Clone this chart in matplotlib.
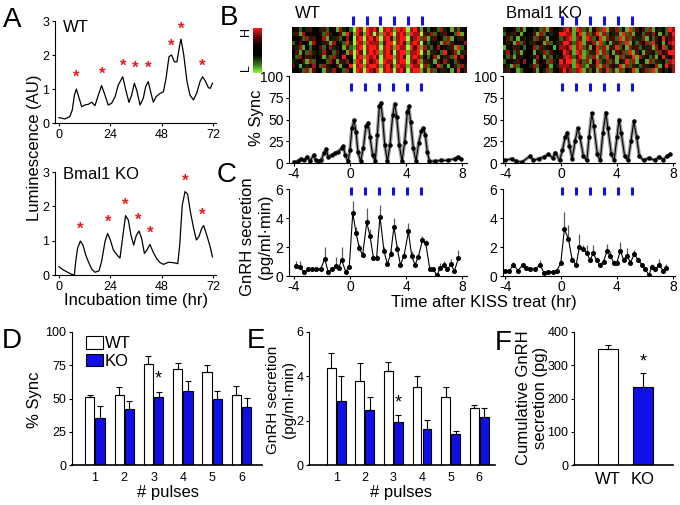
import numpy as np
import matplotlib
matplotlib.use("Agg")
import matplotlib.pyplot as plt
from matplotlib.colors import LinearSegmentedColormap
from matplotlib.patches import Patch

plt.rcParams['font.family'] = ['Liberation Sans', 'DejaVu Sans']
plt.rcParams['axes.unicode_minus'] = False

BLUE = '#1010e6'
W, H = 680, 505

# ---- panel A: luminescence traces
WT_LUM_T = [0, 2.8, 5.1, 6.2, 7.2, 8.1, 9, 10.6, 12.1, 13.7, 15.3, 16.8, 18.4, 19.9, 21.5, 23, 24.6, 26.2,
            27.7, 29.8, 31.2, 32.7, 33.95, 35.2, 36.3, 37.9, 39.4, 40.5, 41.7, 43, 44.1, 45.3, 47.2, 48.8,
            50, 51.4, 52.6, 53.9, 55.1, 56.4, 57, 58.3, 59.8, 61.2, 62.8, 64.3, 65.9, 67.1, 68.5, 69.8, 70.7, 71.7]
WT_LUM = [0.16, 0.12, 0.19, 0.38, 0.82, 1.0, 0.82, 0.48, 0.53, 0.55, 0.61, 0.51, 0.82, 1.1, 0.82, 0.53, 0.58,
          0.77, 1.12, 1.36, 0.97, 0.61, 0.82, 1.17, 0.97, 0.53, 0.73, 1.07, 1.22, 0.87, 0.61, 0.77, 0.87, 0.92,
          1.31, 1.95, 2.0, 1.8, 1.8, 2.29, 2.47, 2.0, 1.22, 0.82, 0.68, 0.87, 1.22, 1.36, 1.22, 1.04, 1.02, 1.17]
WT_STAR_T = [8, 20, 30, 35.5, 41.5, 52.5, 57, 67]
WT_STAR_Y = [1.12, 1.2, 1.45, 1.38, 1.38, 2.05, 2.55, 1.45]

KO_LUM_T = [0, 2, 4, 5.9, 7.2, 7.8, 8.7, 10, 11.2, 12.5, 13.7, 15.3, 16.8, 18.7, 19.9, 21.5, 22.7, 24, 25.4,
            26.9, 28.5, 29.8, 31.1, 32.4, 33.6, 34.9, 36.1, 37.4, 38.6, 39.9, 41.1, 42.5, 43.9, 45.5, 47, 48.8,
            51.1, 53.4, 55.5, 56.4, 57.6, 58.9, 60.1, 61.4, 62.9, 64.2, 65.4, 66.7, 67.6, 69, 70.6, 71.7]
KO_LUM = [0.24, 0.15, 0.08, 0.02, 0, 0.39, 0.78, 0.99, 0.87, 0.58, 0.39, 0.17, 0.08, 0.12, 0.39, 0.97, 1.21,
          1.02, 0.73, 0.6, 0.49, 1.12, 1.73, 1.6, 1.17, 0.87, 1.15, 1.28, 1.07, 0.63, 0.73, 0.89, 0.68, 0.49,
          0.37, 0.31, 0.37, 0.36, 0.33, 0.87, 2.04, 2.43, 2.35, 1.84, 1.36, 1.02, 1.12, 1.36, 1.44, 1.17, 0.83, 0.53]
KO_STAR_T = [10, 23, 31, 37, 42.5, 59, 67]
KO_STAR_Y = [1.1, 1.32, 1.8, 1.38, 1.0, 2.5, 1.52]

# ---- panel B: heatmaps (0-2 low/green, ~5 black, 7-9 high/red)
WT_HEAT = [
    "4625374" "5" "3724618352" "09809897089819890897162" "46283517264",
    "3718465" "5" "6283547196" "19719808198908981988073" "82637452916",
    "5462837" "4" "4816372584" "08908979089718990789281" "37462815374",
    "2674518" "5" "5371846293" "09819888179908971898062" "64318275648",
    "6381425" "5" "7248365172" "18908998089819880979183" "25846371925",
    "4716283" "4" "3865274618" "09708989189708991889071" "73529468137",
    "5284736" "5" "6172835946" "08919897089918970898262" "48163729584",
    "3647182" "5" "4528617384" "19809789098808990879173" "61748352746",
    "7415368" "4" "2836471659" "08918998189719881988082" "35926147283",
    "4562817" "5" "5173846285" "09809879089808970899171" "82473615947",
]
KO_HEAT = [
    "3546271" "4" "5362817453" "89719827168291738261927" "47281635298",
    "2637415" "5" "4718253649" "98817918279182637192816" "62738416279",
    "4725163" "4" "6283715462" "78918719826918372918273" "38162749378",
    "5361827" "5" "3746182537" "99728917381926173829162" "74829361589",
    "1647352" "4" "5827364158" "87918927169281739261837" "26371849268",
    "3852716" "5" "4163827546" "98719812739182617382917" "51736284799",
    "4271635" "4" "6385172436" "89827918281729361827391" "83627159348",
    "2563748" "5" "5174628359" "79918728169238271639281" "46182735289",
    "6318254" "4" "3826471538" "88719821739182763918273" "27364815978",
    "3745126" "5" "4715382647" "97828917261839271826391" "63829174358",
]
KISS_PULSES = [0.07, 1.07, 2.07, 3.07, 4.1, 5.1]

WT_SYNC_T = [-4.0, -3.7, -3.5, -3.3, -3.05, -2.85, -2.6, -2.45, -2.2, -2.05, -1.85, -1.7, -1.55, -1.3, -1.1,
             -0.85, -0.6, -0.48, -0.33, -0.14, 0.0, 0.14, 0.29, 0.43, 0.57, 0.76, 0.95, 1.14, 1.29, 1.43,
             1.62, 1.8, 1.95, 2.1, 2.2, 2.33, 2.48, 2.67, 2.86, 3.05, 3.19, 3.33, 3.52, 3.71, 3.9, 4.1, 4.19,
             4.33, 4.52, 4.71, 4.9, 5.1, 5.24, 5.38, 5.52, 5.67, 6.05, 6.5, 7.0, 7.5, 7.7, 7.9]
WT_SYNC = [1, 2, 5, 3, 7, 2, 9, 3, 2, 3, 12, 16, 7, 9, 11, 13, 17, 19, 9, 2, 15, 40, 49, 36, 13, 2, 17, 42, 46,
           30, 9, 2, 32, 65, 69, 51, 21, 2, 21, 55, 68, 53, 21, 2, 24, 59, 65, 47, 17, 2, 23, 37, 40, 32, 13, 2,
           2, 3, 3, 5, 7, 5]
KO_SYNC_T = [-4.0, -3.5, -3.2, -2.8, -2.2, -2.0, -1.6, -1.2, -0.9, -0.6, -0.4, -0.1, 0.1, 0.3, 0.45, 0.6, 0.8,
             1.0, 1.2, 1.35, 1.6, 1.85, 2.0, 2.2, 2.35, 2.6, 2.8, 3.0, 3.2, 3.35, 3.6, 3.8, 4.0, 4.15, 4.3,
             4.55, 4.8, 5.0, 5.2, 5.4, 5.6, 5.9, 6.3, 6.7, 7.0, 7.3, 7.6, 7.8]
KO_SYNC = [3, 5, 2, 1, 8, 3, 5, 7, 10, 6, 12, 3, 15, 30, 35, 20, 5, 25, 40, 30, 8, 3, 30, 57, 42, 10, 3, 35, 58,
           40, 10, 3, 30, 50, 35, 8, 3, 25, 48, 30, 8, 3, 6, 3, 7, 4, 8, 10]

# ---- panel C: GnRH secretion
WT_G_T = [-3.86, -3.57, -3.3, -3.0, -2.7, -2.4, -2.1, -1.8, -1.55, -1.3, -1.0, -0.8, -0.6, -0.3, -0.05, 0.2,
          0.43, 0.67, 0.9, 1.2, 1.43, 1.67, 1.9, 2.14, 2.43, 2.67, 2.9, 3.14, 3.38, 3.6, 3.86, 4.17, 4.4, 4.64,
          4.88, 5.17, 5.4, 5.7, 5.95, 6.2, 6.43, 6.7, 6.95, 7.2, 7.45, 7.74]
WT_G = [0.7, 0.65, 0.25, 0.45, 0.45, 0.5, 0.45, 1.2, 0.25, 0.45, 0.7, 0.55, 1.1, 0.3, 0.65, 4.35, 3.0, 1.9,
        1.45, 3.7, 2.75, 1.27, 1.27, 4.1, 1.7, 0.83, 1.5, 3.4, 1.85, 0.76, 1.4, 3.07, 1.4, 0.76, 1.34, 2.45,
        2.3, 0.45, 0.45, 0.05, 0.53, 0.76, 0.45, 0.8, 0.35, 1.22]
WT_G_ERR = [0.35, 0.4, 0.1, 0.1, 0.1, 0.1, 0.1, 0.8, 0.1, 0.1, 0.6, 0.1, 0.9, 0.1, 0.1, 0.85, 0.4, 0.3, 0.2,
            1.0, 0.5, 0.2, 0.2, 0.8, 0.3, 0.1, 0.3, 0.6, 0.3, 0.1, 0.2, 0.6, 0.3, 0.1, 0.2, 0.3, 0.2, 0.1, 0.1,
            0.1, 0.4, 0.3, 0.1, 0.4, 0.1, 0.6]
KO_G_T = [-4.0, -3.7, -3.4, -3.07, -2.75, -2.47, -2.2, -1.87, -1.5, -1.22, -0.9, -0.6, -0.31, -0.02, 0.24,
          0.53, 0.8, 1.08, 1.32, 1.6, 1.84, 2.08, 2.3, 2.54, 2.78, 3.04, 3.28, 3.52, 3.76, 4.0, 4.24, 4.48,
          4.72, 4.96, 5.25, 5.5, 5.8, 6.03, 6.28, 6.5, 6.75, 7.0, 7.3, 7.5]
KO_G = [0.37, 0.37, 0.76, 0.37, 0.76, 0.53, 0.48, 0.46, 0.76, 0.23, 0.3, 0.3, 0.37, 0.88, 3.23, 2.54, 1.1,
        0.76, 2.03, 1.85, 1.57, 1.1, 1.57, 1.1, 0.76, 1.0, 1.7, 1.4, 0.93, 0.93, 1.75, 1.1, 1.4, 0.93, 1.52,
        1.1, 0.76, 0.46, 0.07, 0.65, 0.46, 0.76, 0.37, 0.53]
KO_G_ERR = [0.1, 0.1, 0.2, 0.1, 0.1, 0.1, 0.1, 0.1, 0.35, 0.1, 0.1, 0.1, 0.1, 0.2, 1.2, 0.95, 0.2, 0.2, 0.9,
            0.3, 0.6, 0.2, 0.6, 0.2, 0.1, 0.2, 0.5, 0.3, 0.2, 0.2, 0.6, 0.2, 0.5, 0.2, 0.3, 0.2, 0.1, 0.1, 0.1,
            0.2, 0.1, 0.4, 0.1, 0.3]

# ---- panels D-F: bars
PULSES = [1, 2, 3, 4, 5, 6]
SYNC_WT = [51, 53, 76, 72.5, 70, 52.5]
SYNC_WT_ERR = [2, 6, 6, 4, 5, 7]
SYNC_KO = [35.5, 42, 51, 56, 49.5, 43.5]
SYNC_KO_ERR = [8.5, 6, 4, 7, 6.5, 7]
SEC_WT = [4.37, 3.8, 4.25, 3.5, 3.09, 2.55]
SEC_WT_ERR = [0.68, 0.8, 0.4, 0.5, 0.41, 0.15]
SEC_KO = [2.87, 2.49, 1.96, 1.61, 1.38, 2.18]
SEC_KO_ERR = [1.13, 0.56, 0.3, 0.4, 0.17, 0.38]
CUM_GROUPS = ['WT', 'KO']
CUM = [348, 235]
CUM_ERR = [13, 42]

fig = plt.figure(figsize=(W / 100, H / 100), dpi=100)


def add_ax(l, t, r, b):
    return fig.add_axes([l / W, 1 - b / H, (r - l) / W, (b - t) / H])


def style(ax, size=9):
    for s in ['top', 'right']:
        ax.spines[s].set_visible(False)
    ax.tick_params(labelsize=size, length=2.5, width=0.8, pad=1.5)


def ftext(x, y, s, **kw):
    fig.text(x / W, 1 - y / H, s, **kw)


# A
for (t, b), tt, vv, st, sy, name, ty in [((21, 123), WT_LUM_T, WT_LUM, WT_STAR_T, WT_STAR_Y, 'WT', 1.01),
                                         ((172, 275), KO_LUM_T, KO_LUM, KO_STAR_T, KO_STAR_Y, 'Bmal1 KO', 1.05)]:
    ax = add_ax(54.7, t, 216.3, b)
    style(ax)
    ax.plot(tt, vv, color='k', lw=0.9)
    for x, y in zip(st, sy):
        ax.text(x, y, '*', color='#e02020', fontsize=12, ha='center', va='bottom', fontweight='bold')
    ax.set_xlim(-2, 73.5)
    ax.set_ylim(0, 3)
    ax.set_xticks([0, 24, 48, 72])
    ax.set_yticks([0, 1, 2, 3])
    ax.text(0.05, ty, name, transform=ax.transAxes, fontsize=12, va='top')

ftext(35, 148, 'Luminescence (AU)', rotation=90, fontsize=12, ha='center', va='center')
ftext(136, 305, 'Incubation time (hr)', fontsize=12, ha='center', va='baseline')

# B heatmaps
cmap = LinearSegmentedColormap.from_list(
    'rg', [(0, '#8cff40'), (0.18, '#3a7a16'), (0.4, '#000000'), (0.6, '#000000'), (0.82, '#6a0c0c'),
           (1, '#ff1a1a')])
heat_axes = [((292, 467), (-4.35, 8.35), WT_HEAT, 'WT'), ((503, 675), (-4.15, 8.15), KO_HEAT, 'Bmal1 KO')]
for (l, r), xl, rows, name in heat_axes:
    ax = add_ax(l, 27, r, 73)
    data = np.array([[int(c) for c in row] for row in rows])
    im = ax.imshow(data, extent=(xl[0], xl[1], 0, 1), aspect='auto', cmap=cmap, vmin=0, vmax=9,
                   interpolation='nearest')
    ax.set_xlim(*xl)
    ax.vlines(KISS_PULSES, 1.04, 1.24, color=BLUE, lw=2.2, transform=ax.get_xaxis_transform(), clip_on=False)
    ax.axis('off')
    ftext(l + 3, 18, name, fontsize=12, va='baseline')

cax = add_ax(253, 28, 262, 73)
cb = fig.colorbar(im, cax=cax)
cb.set_ticks([])
cb.outline.set_visible(False)
ftext(246, 32, 'H', rotation=90, fontsize=9, ha='center', va='center')
ftext(246, 68, 'L', rotation=90, fontsize=9, ha='center', va='center')

# B sync + C secretion
sets = [((289, 467), (-4.35, 8.35), WT_SYNC_T, WT_SYNC, WT_G_T, WT_G, WT_G_ERR),
        ((503, 675), (-4.15, 8.15), KO_SYNC_T, KO_SYNC, KO_G_T, KO_G, KO_G_ERR)]
for (l, r), xl, st, sv, gt, gv, ge in sets:
    ax = add_ax(l, 76, r, 163)
    style(ax, 10)
    ax.plot(st, sv, color='0.6', lw=2.6, solid_joinstyle='round')
    ax.plot(st, sv, color='k', lw=0.8, marker='o', ms=2.2)
    ax.vlines(KISS_PULSES, 83, 92, color=BLUE, lw=2.2)
    ax.set_xlim(*xl)
    ax.set_ylim(0, 100)
    ax.set_yticks([0, 25, 50, 75, 100])
    ax.set_xticks([-4, 0, 4, 8])
    ax.tick_params(axis='x', pad=0.5)

    ax = add_ax(l, 189, r, 276)
    style(ax, 10)
    ax.errorbar(gt, gv, yerr=[np.zeros(len(ge)), ge], color='k', lw=0.8, marker='o', ms=2.6,
                ecolor='0.35', elinewidth=0.9, capsize=0)
    ax.vlines(KISS_PULSES, 5.6, 6.15, color=BLUE, lw=2.2, clip_on=False)
    ax.set_xlim(*xl)
    ax.set_ylim(0, 6)
    ax.set_yticks([0, 2, 4, 6])
    ax.set_xticks([-4, 0, 4, 8])
    ax.tick_params(axis='x', pad=0.5)

ftext(257, 118, '% Sync', rotation=90, fontsize=12, ha='center', va='center')
ftext(248, 237, 'GnRH secretion', rotation=90, fontsize=12, ha='center', va='center')
ftext(266, 237, '(pg/ml·min)', rotation=90, fontsize=12, ha='center', va='center')
ftext(484, 307, 'Time after KISS treat (hr)', fontsize=12, ha='center', va='baseline')

# D / E
x = np.array(PULSES)
bw = 0.31
ekw = dict(capsize=2.5, elinewidth=0.8, capthick=0.8)
for (l, r), wt, wte, ko, koe, ylim, yt, star, xl in [
        ((72, 262), SYNC_WT, SYNC_WT_ERR, SYNC_KO, SYNC_KO_ERR, 100, [0, 25, 50, 75, 100], 58, (0.22, 6.7)),
        ((309, 495), SEC_WT, SEC_WT_ERR, SEC_KO, SEC_KO_ERR, 6, [0, 2, 4, 6], 2.4, (0.05, 6.55))]:
    ax = add_ax(l, 332, r, 465)
    style(ax)
    ax.bar(x - bw / 2 - 0.02, wt, bw, yerr=[np.zeros(6), wte], color='white', edgecolor='k', lw=0.8,
           error_kw=ekw)
    ax.bar(x + bw / 2 + 0.02, ko, bw, yerr=[np.zeros(6), koe], color=BLUE, edgecolor='k', lw=0.8,
           error_kw=ekw)
    ax.text(3 + bw / 2 + 0.02, star, '*', fontsize=13, ha='center', va='bottom')
    ax.set_xlim(*xl)
    ax.set_ylim(0, ylim)
    ax.set_yticks(yt)
    ax.set_xticks(PULSES)
    ax.tick_params(axis='x', length=0, pad=5)
    ax.spines['bottom'].set_linewidth(1.2)
    if ylim == 100:
        ax.legend(handles=[Patch(facecolor='white', edgecolor='k', lw=0.8, label='WT'),
                           Patch(facecolor=BLUE, edgecolor='k', lw=0.8, label='KO')],
                  loc='upper left', bbox_to_anchor=(0.04, 1.02), frameon=False, fontsize=12,
                  handlelength=1.0, handleheight=0.8, handletextpad=0.1, labelspacing=0.15, borderaxespad=0)

ftext(34, 400, '% Sync', rotation=90, fontsize=12, ha='center', va='center')
ftext(168, 497, '# pulses', fontsize=12, ha='center', va='baseline')
ftext(273, 400, 'GnRH secretion', rotation=90, fontsize=11, ha='center', va='center')
ftext(289, 400, '(pg/ml·min)', rotation=90, fontsize=11, ha='center', va='center')
ftext(401, 497, '# pulses', fontsize=12, ha='center', va='baseline')

# F
ax = add_ax(574, 332, 673, 465)
style(ax)
xf = np.arange(len(CUM_GROUPS))
ax.bar(xf, CUM, 0.59, yerr=[np.zeros(2), CUM_ERR], color=['white', BLUE], edgecolor='k', lw=0.8,
       error_kw=ekw)
ax.text(1, 285, '*', fontsize=13, ha='center', va='bottom')
ax.set_xlim(-0.97, 1.86)
ax.set_ylim(0, 400)
ax.set_yticks([0, 100, 200, 300, 400])
ax.set_xticks(xf)
ax.set_xticklabels(CUM_GROUPS, fontsize=12)
ax.tick_params(axis='x', length=0, pad=5)
ax.spines['bottom'].set_linewidth(1.2)
ftext(523, 398, 'Cumulative GnRH', rotation=90, fontsize=12, ha='center', va='center')
ftext(541, 398, 'secretion (pg)', rotation=90, fontsize=12, ha='center', va='center')

# panel letters
for s, px, py in [('A', 3, 27), ('B', 220, 25), ('C', 217, 182), ('D', 2, 348), ('E', 247, 348), ('F', 495, 350)]:
    ftext(px, py, s, fontsize=20, va='baseline')

fig.savefig('out.png', dpi=100)
